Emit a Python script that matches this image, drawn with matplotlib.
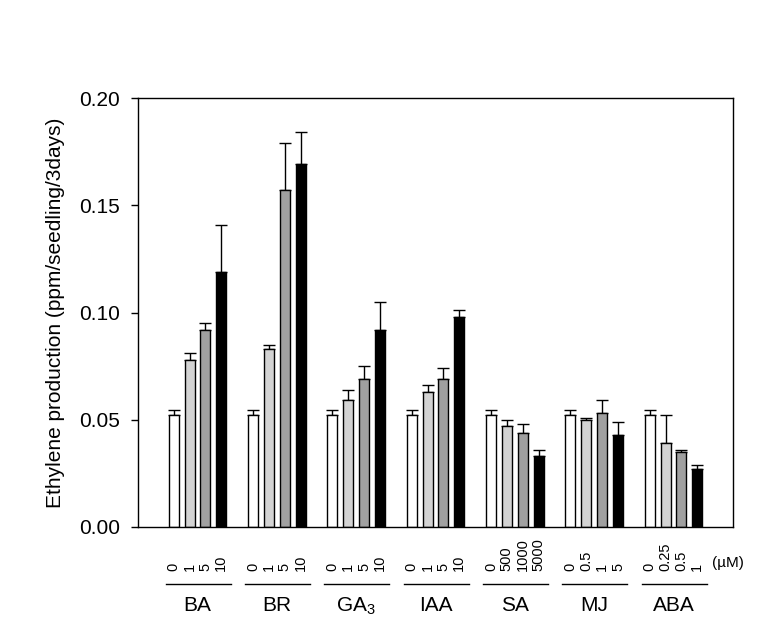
import numpy as np
import matplotlib
matplotlib.use('Agg')
from matplotlib import pyplot as plt
import matplotlib.transforms as mtransforms

plt.rcParams['font.family'] = ['Liberation Sans', 'DejaVu Sans']
plt.rcParams['mathtext.fontset'] = 'custom'
plt.rcParams['mathtext.rm'] = 'Liberation Sans'
plt.rcParams['mathtext.default'] = 'regular'

groups = ['BA', 'BR', 'GA$_3$', 'IAA', 'SA', 'MJ', 'ABA']
conc = [['0', '1', '5', '10'],
        ['0', '1', '5', '10'],
        ['0', '1', '5', '10'],
        ['0', '1', '5', '10'],
        ['0', '500', '1000', '5000'],
        ['0', '0.5', '1', '5'],
        ['0', '0.25', '0.5', '1']]

white = [0.052, 0.052, 0.052, 0.052, 0.052, 0.052, 0.052]
light = [0.078, 0.083, 0.059, 0.063, 0.047, 0.050, 0.039]
dark = [0.092, 0.157, 0.069, 0.069, 0.044, 0.053, 0.035]
black = [0.119, 0.169, 0.092, 0.098, 0.033, 0.043, 0.027]

white_err = [0.0025, 0.0025, 0.0025, 0.0025, 0.0025, 0.0025, 0.0025]
light_err = [0.003, 0.002, 0.005, 0.003, 0.003, 0.001, 0.013]
dark_err = [0.003, 0.022, 0.006, 0.005, 0.004, 0.006, 0.001]
black_err = [0.022, 0.015, 0.013, 0.003, 0.003, 0.006, 0.002]

series = [white, light, dark, black]
errors = [white_err, light_err, dark_err, black_err]
colors = ['white', '#d3d3d3', '#a0a0a0', 'black']

fig = plt.figure(figsize=(7.74, 6.22), dpi=100)
ax = fig.add_axes([138 / 774, 95 / 622, 595 / 774, 429 / 622])

x = np.arange(len(groups))
pitch = 0.2
width = 0.125
offsets = (np.arange(4) - 1.5) * pitch

for vals, errs, col, off in zip(series, errors, colors, offsets):
    ax.bar(x + off, vals, width, color=col, edgecolor='black', linewidth=1.0, zorder=2)
    ax.errorbar(x + off, vals, yerr=[np.zeros(len(vals)), errs], fmt='none',
                ecolor='black', elinewidth=1.0, capsize=4.3, capthick=1.0, zorder=1)

ax.set_xlim(-0.75, len(groups) - 0.25)
ax.set_ylim(0, 0.2)
ax.set_yticks([0.0, 0.05, 0.10, 0.15, 0.20])
ax.set_yticklabels(['0.00', '0.05', '0.10', '0.15', '0.20'], fontsize=15)
ax.tick_params(axis='y', direction='out', length=5, width=1, pad=8)
ax.set_xticks([])
ax.set_ylabel('Ethylene production (ppm/seedling/3days)', fontsize=15, labelpad=10)
for s in ax.spines.values():
    s.set_linewidth(1.0)

trans = mtransforms.blended_transform_factory(ax.transData, ax.transAxes)
for i, g in enumerate(groups):
    for off, c in zip(offsets, conc[i]):
        ax.text(i + off, -0.103, c, rotation=90, ha='center', va='bottom',
                fontsize=10.5, transform=trans)
    ax.plot([i - 0.40, i + 0.42], [-0.133, -0.133], color='black', lw=1.0,
            transform=trans, clip_on=False)
    ax.text(i, -0.184, g, ha='center', va='center', fontsize=15, transform=trans)

ax.text(len(groups) - 1 + 0.48, -0.084, '(\u00b5M)', ha='left', va='center',
        fontsize=11, transform=trans)

fig.savefig('out.png', dpi=100)
